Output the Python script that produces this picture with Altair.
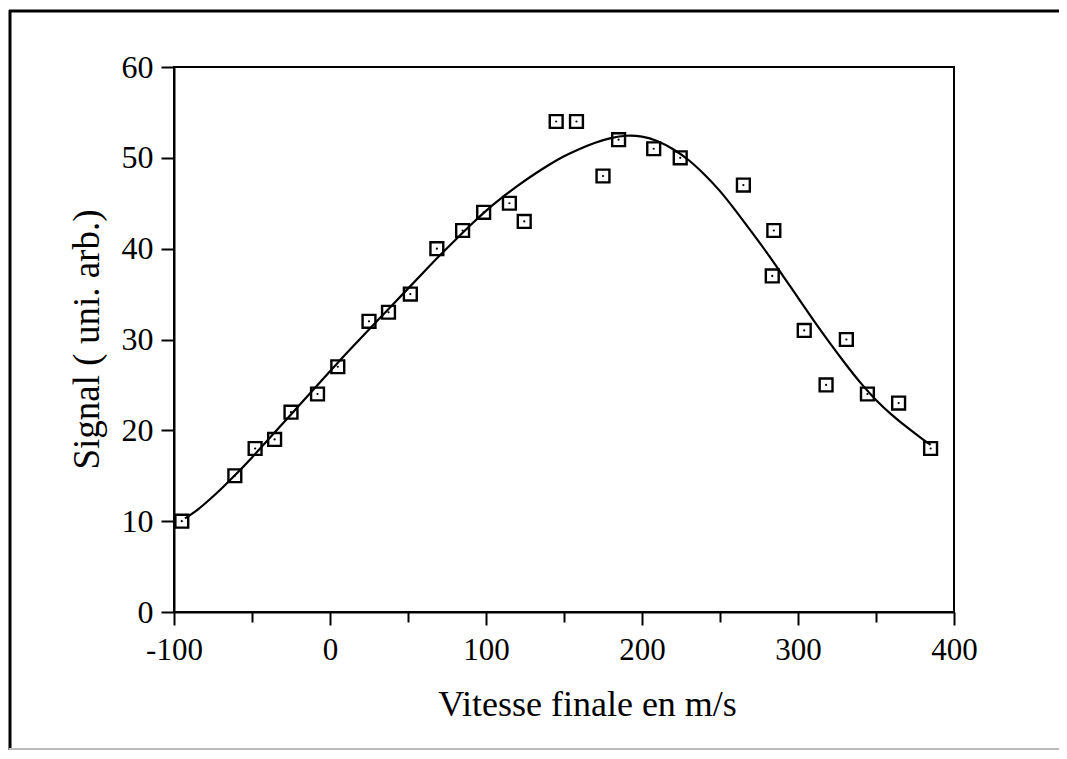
import altair as alt
import pandas as pd

# measured points
pt_x = [-95, -61, -48, -35.5, -25, -8, 5, 25, 37.5, 51.5, 68.5, 85, 98.5, 115, 124.5,
        145, 158, 175, 185, 207.5, 224.5, 265, 284.5, 283.5, 304, 318, 331, 344.5, 364.5, 385]
pt_y = [10, 15, 18, 19, 22, 24, 27, 32, 33, 35, 40, 42, 44, 45, 43,
        54, 54, 48, 52, 51, 50, 47, 42, 37, 31, 25, 30, 24, 23, 18]

# fitted curve
cv_x = [-93, -85, -77, -70, -60, -50, -40, -30, -20, -10, 0, 10, 20, 30, 40, 50, 60, 70, 80, 90, 100,
        110, 120, 130, 140, 150, 160, 170, 180, 190, 200, 210, 220, 230, 240, 250, 260, 270, 280, 290, 300,
        310, 320, 330, 340, 350, 360, 370, 380, 385]
cv_y = [10.3, 11.2, 12.4, 13.5, 15.2, 17.0, 18.9, 20.8, 22.7, 24.6, 26.5, 28.4, 30.2, 32.0, 33.8, 35.6,
        37.4, 39.2, 40.9, 42.6, 44.2, 45.6, 46.9, 48.1, 49.2, 50.2, 51.0, 51.7, 52.2, 52.5, 52.4, 51.9,
        51.0, 49.8, 48.2, 46.4, 44.2, 41.9, 39.6, 37.1, 34.6, 32.1, 29.7, 27.4, 25.2, 23.3, 21.7, 20.3,
        19.0, 18.4]

x_major = [-100, 0, 100, 200, 300, 400]
x_minor = [-50, 50, 150, 250, 350]
y_ticks = [0, 10, 20, 30, 40, 50, 60]

FONT = "Liberation Serif"

pts = pd.DataFrame({"v": pt_x, "s": pt_y})
cv = pd.DataFrame({"v": cv_x, "s": cv_y})

xscale = alt.Scale(domain=[-100, 400], nice=False, zero=False)
yscale = alt.Scale(domain=[0, 60], nice=False)

x_main = alt.X("v:Q", scale=xscale,
               axis=alt.Axis(values=x_major, tickSize=13, tickWidth=2, tickColor="black",
                             domainColor="black", domainWidth=2, labelFont=FONT, labelFontSize=31,
                             labelColor="black", labelPadding=10, grid=False, labelFlush=False,
                             labelExpr="(datum.value < 0 ? '-' : '') + abs(datum.value)",
                             title="Vitesse finale en m/s", titleFont=FONT, titleFontSize=36,
                             titleFontWeight="normal", titleColor="black",
                             titleX=413, titleY=103, titleBaseline="alphabetic", titleAlign="center",
                             orient="bottom"))
y_main = alt.Y("s:Q", scale=yscale,
               axis=alt.Axis(values=y_ticks, tickSize=13, tickWidth=2, tickColor="black",
                             domainColor="black", domainWidth=2, labelFont=FONT, labelFontSize=32,
                             labelColor="black", labelPadding=8, grid=False, labelFlush=False,
                             title="Signal ( uni. arb.)", titleFont=FONT, titleFontSize=37,
                             titleFontWeight="normal", titleColor="black",
                             titleX=-76, titleY=272, titleAngle=270, titleBaseline="alphabetic",
                             titleAlign="center"))

squares = alt.Chart(pts).mark_square(filled=False, size=165, stroke="black", strokeWidth=2.4,
                                     opacity=1).encode(x=x_main, y=y_main)
dots = alt.Chart(pts).mark_circle(size=5, color="black", opacity=1).encode(
    x=alt.X("v:Q", scale=xscale, axis=None), y=alt.Y("s:Q", scale=yscale))

line = alt.Chart(cv).mark_line(color="black", strokeWidth=2.2, interpolate="basis").encode(
    x=alt.X("v:Q", scale=xscale,
            axis=alt.Axis(values=x_minor, tickSize=10, tickWidth=2, tickColor="black",
                          labels=False, domain=False, title=None, grid=False, orient="bottom")),
    y=alt.Y("s:Q", scale=yscale))

frame_df = pd.DataFrame({"k": [0]})
frame_left = alt.Chart(frame_df).mark_rule(color="black", strokeWidth=3).encode(
    x=alt.value(-164), y=alt.value(-57), y2=alt.value(683))
frame_top = alt.Chart(frame_df).mark_rule(color="black", strokeWidth=3).encode(
    x=alt.value(-165), x2=alt.value(885), y=alt.value(-56))
frame_bottom = alt.Chart(frame_df).mark_rule(color="#bbbbbb", strokeWidth=2).encode(
    x=alt.value(-165), x2=alt.value(885), y=alt.value(682))

chart = alt.layer(frame_left, frame_top, frame_bottom, squares, line, dots).resolve_axis(
    x="independent"
).properties(
    width=780, height=545,
    autosize=alt.AutoSizeParams(type="none"),
    padding={"left": 166, "top": 59, "right": 105, "bottom": 139},
    background="white",
).configure_view(stroke="black", strokeWidth=2)

chart.save("out.html", embed_options={"renderer": "svg", "actions": False})
